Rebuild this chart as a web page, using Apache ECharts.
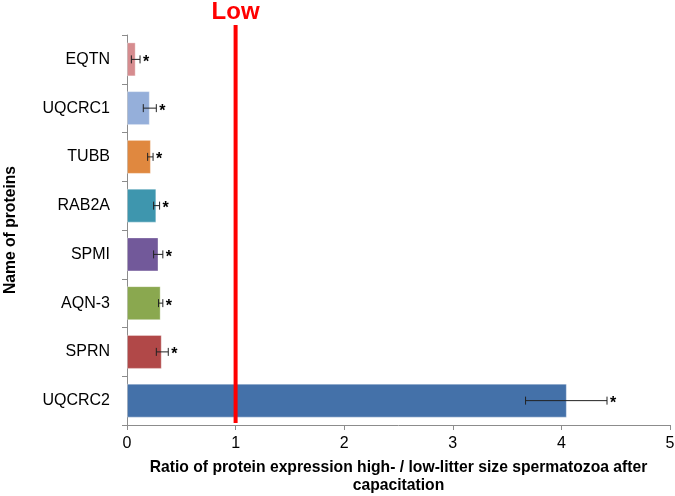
<!DOCTYPE html>
<html>
<head>
<meta charset="utf-8">
<script src="https://cdn.jsdelivr.net/npm/echarts@6/dist/echarts.min.js"></script>
<style>
html,body{margin:0;padding:0;background:#fff;}
#chart{width:675px;height:496px;}
</style>
</head>
<body>
<div id="chart"></div>
<script>
// Categories listed bottom to top
const categories = ['UQCRC2', 'SPRN', 'AQN-3', 'SPMI', 'RAB2A', 'TUBB', 'UQCRC1', 'EQTN'];
const values     = [4.05, 0.32, 0.31, 0.29, 0.27, 0.22, 0.21, 0.08];
const errLow     = [3.67, 0.27, 0.29, 0.245, 0.245, 0.19, 0.15, 0.04];
const errHigh    = [4.42, 0.38, 0.33, 0.33, 0.30, 0.24, 0.27, 0.12];
const barColors  = ['#4471a9', '#b14848', '#8aa84f', '#72599a', '#3e96ae', '#e0883f', '#95afda', '#d68c8f'];
const xTicks     = [0, 1, 2, 3, 4, 5];
const refValue   = 1;
const refLabel   = 'Low';
const markText   = '*';

const chart = echarts.init(document.getElementById('chart'), null, {renderer: 'canvas'});

const errData = categories.map((c, i) => [i, errLow[i], errHigh[i]]);
const FONT = 'Liberation Sans, Arial, sans-serif';

const option = {
  animation: false,
  backgroundColor: '#ffffff',
  grid: {left: 127, right: 5, top: 35, bottom: 71, containLabel: false, outerBoundsMode: 'none'},
  xAxis: {
    type: 'value',
    min: xTicks[0],
    max: xTicks[xTicks.length - 1],
    interval: 1,
    splitLine: {show: false},
    axisLine: {show: true, lineStyle: {color: '#8c8c8c', width: 1}},
    axisTick: {show: true, length: 5, lineStyle: {color: '#8c8c8c'}},
    axisLabel: {color: '#000', fontSize: 16, fontFamily: FONT, margin: 11},
    name: 'Ratio of protein expression high- / low-litter size spermatozoa after\ncapacitation',
    nameLocation: 'middle',
    nameGap: 34,
    nameTextStyle: {color: '#000', fontSize: 15.7, fontWeight: 'bold', fontFamily: FONT, lineHeight: 18}
  },
  yAxis: {
    type: 'category',
    data: categories,
    axisLine: {show: true, lineStyle: {color: '#8c8c8c', width: 1}},
    axisTick: {show: true, length: 5, lineStyle: {color: '#8c8c8c'}},
    axisLabel: {color: '#000', fontSize: 16, fontFamily: FONT, margin: 17},
    name: 'Name of proteins',
    nameLocation: 'middle',
    nameGap: 108,
    nameRotate: 90,
    nameTextStyle: {color: '#000', fontSize: 15.7, fontWeight: 'bold', fontFamily: FONT}
  },
  series: [
    {
      type: 'bar',
      data: values.map((v, i) => ({value: v, itemStyle: {color: barColors[i]}})),
      barWidth: 34,
      itemStyle: {borderColor: 'rgba(255,255,255,0.35)', borderWidth: 1}
    },
    {
      type: 'custom',
      data: errData,
      encode: {y: 0, x: [1, 2]},
      z: 5,
      renderItem: function (params, api) {
        const ci = api.value(0);
        const lo = api.coord([api.value(1), ci]);
        const hi = api.coord([api.value(2), ci]);
        const y = lo[1];
        const cap = 4;
        const st = {stroke: '#222', lineWidth: 1};
        return {
          type: 'group',
          children: [
            {type: 'line', shape: {x1: lo[0], y1: y, x2: hi[0], y2: y}, style: st},
            {type: 'line', shape: {x1: lo[0], y1: y - cap, x2: lo[0], y2: y + cap}, style: st},
            {type: 'line', shape: {x1: hi[0], y1: y - cap, x2: hi[0], y2: y + cap}, style: st},
            {type: 'text', style: {x: hi[0] + 3, y: y + 3, text: markText, fill: '#000', font: 'bold 16px ' + FONT, textAlign: 'left', textVerticalAlign: 'middle'}}
          ]
        };
      }
    },
    {
      type: 'custom',
      data: [[refValue]],
      encode: {x: 0},
      z: 10,
      clip: false,
      renderItem: function (params, api) {
        const cs = params.coordSys;
        const x = api.coord([api.value(0), categories[0]])[0];
        return {
          type: 'group',
          children: [
            {type: 'line', shape: {x1: x, y1: cs.y - 10, x2: x, y2: cs.y + cs.height - 2}, style: {stroke: '#ff0000', lineWidth: 4}},
            {type: 'text', style: {x: x, y: cs.y - 35, text: refLabel, fill: '#ff0000', font: 'bold 24px ' + FONT, textAlign: 'center', textVerticalAlign: 'top'}}
          ]
        };
      }
    }
  ]
};
chart.setOption(option);
</script>
</body>
</html>
